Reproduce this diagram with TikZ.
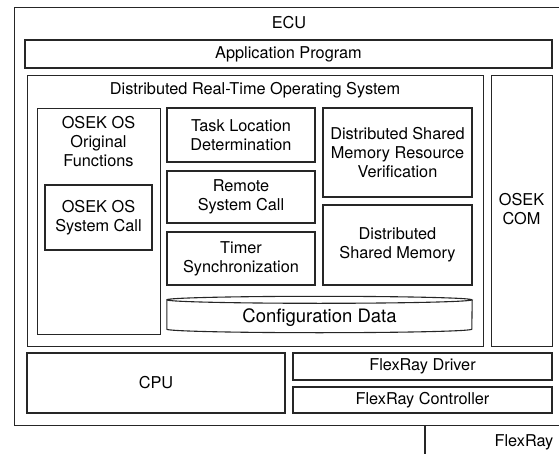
\documentclass[tikz,border=0pt]{standalone}
\usepackage{fontspec}
\setmainfont{TeX Gyre Heros}
\begin{document}
\begin{tikzpicture}[x=1pt, y=-1pt,
  every node/.style={font=\fontsize{16.3}{19}\selectfont, inner sep=0pt, align=center},
  blk/.style={draw=black!85, line width=1.1pt},
  lbl/.style={}]
\useasboundingbox (0,0) rectangle (559,454);

% ECU enclosure (runs past the right edge)
\node[blk, minimum width=550pt, minimum height=418pt, anchor=north west] (ecu) at (14,7) {};
\node[lbl] (ecut) at (289,23) {ECU};

\node[blk, minimum width=527pt, minimum height=28pt] (app) at (288.5,54) {Application Program};

% Operating system block
\node[blk, minimum width=456pt, minimum height=271pt, anchor=north west] (drtos) at (27,75) {};
\node[lbl] (drtost) at (255,90) {Distributed Real-Time Operating System};

\node[blk, minimum width=61pt, minimum height=271pt, anchor=north west] (com) at (491,75) {};
\node[lbl] (comt) at (521.5,209.5) {OSEK\\COM};

\node[blk, minimum width=123pt, minimum height=226pt, anchor=north west] (orig) at (37,108) {};
\node[lbl] (origt) at (98.5,142) {OSEK OS\\Original\\Functions};
\node[blk, minimum width=107pt, minimum height=65pt] (syscall) at (98.5,217.5) {OSEK OS\\System Call};

\node[blk, minimum width=148pt, minimum height=54pt] (tld) at (241,135) {Task Location\\Determination};
\node[blk, minimum width=148pt, minimum height=52pt] (rsc) at (241,197) {Remote\\System Call};
\node[blk, minimum width=148pt, minimum height=53pt] (tsync) at (241,258.5) {Timer\\Synchronization};

\node[blk, minimum width=149pt, minimum height=89pt] (dsmrv) at (397.5,152.5) {Distributed Shared\\Memory Resource\\Verification};
\node[blk, minimum width=149pt, minimum height=80pt] (dsm) at (397.5,245) {Distributed\\Shared Memory};

% Configuration data drawn as a flat cylinder
\node[minimum width=305pt, minimum height=29pt] (cfg) at (319.5,314.5) {};
\draw[black!85, line width=1.1pt]
  (cfg.north west) arc[start angle=180, end angle=0, x radius=152.5pt, y radius=3.5pt]
  arc[start angle=0, end angle=-180, x radius=152.5pt, y radius=3.5pt]
  -- (cfg.south west)
  arc[start angle=180, end angle=360, x radius=152.5pt, y radius=3.5pt]
  -- (cfg.north east);
\node[lbl, font=\fontsize{18.5}{22}\selectfont] (cfgt) at (319.5,318) {Configuration Data};

% Hardware layer
\node[blk, minimum width=258pt, minimum height=60pt] (cpu) at (156,383) {CPU};
\node[blk, minimum width=259pt, minimum height=27pt] (drv) at (422.5,366.5) {FlexRay Driver};
\node[blk, minimum width=259pt, minimum height=26pt] (ctl) at (422.5,400) {FlexRay Controller};

% Bus tap
\coordinate (tap) at (425,425);
\coordinate (busend) at (425,454);
\draw[black!85, line width=1.1pt] (tap) -- (busend);
\node[lbl] (bus) at (524,442) {FlexRay};
\end{tikzpicture}
\end{document}
